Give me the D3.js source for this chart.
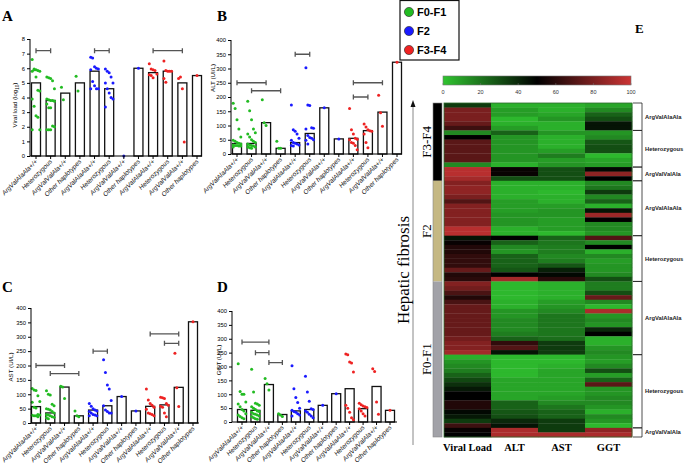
<!DOCTYPE html>
<html><head><meta charset="utf-8">
<script src="https://cdn.jsdelivr.net/npm/d3@7"></script>
<style>body{margin:0;background:#fff}svg{display:block}</style>
</head><body>
<svg id="c" width="685" height="465"></svg>
<script>
// ---------- DATA ----------
const categories = ["ArgValAlaAla+/+","Heterozygous","ArgValValAla+/+","Other haplotypes"];
const stages = ["F0-F1","F2","F3-F4"];
const stageColors = ["#22bb22","#1a1aff","#ee2222"];

const vlTicks = [0,1,2,3,4,5,6,7,8];
const enzTicks = [0,50,100,150,200,250,300,350,400];

const vlBars = [5.0,3.8,4.3,5.0, 5.8,4.6,0,6.0, 5.7,5.8,5.0,5.5];
const vlPoints = [
 [6.6,5.95,5.9,5.85,5.8,5.8,5.9,5.4,4.5,4.45,3.9,3.4,2.75,2.65,1.8,1.8],
 [5.4,5.35,5.3,5.15,4.6,3.9,3.85,3.8,3.8,3.75,3.55,3.3,3.3,2.05,2.0,1.8,1.8,1.8],
 [4.7,3.85],[5.45,4.45],
 [6.75,6.7,6.1,6.0,5.95,5.9,5.1,4.8,4.6,4.6,4.6],
 [5.95,5.8,5.7,5.4,5.0,5.0,4.6,4.3,4.0,3.9,3.35],
 [0],[6.0],
 [6.3,5.95,5.9,5.85,5.6,5.55,5.5,5.35],
 [6.5,5.85,5.8,5.8,5.8,5.3,5.05],
 [5.3,5.4,4.6,0.95],[5.5]
];
const vlSig = [[0,1,7.2],[4,5,7.2],[8,10,7.2]];

const altBars = [37,37,110,20, 40,72,162,53, 55,82,147,322];
const altPoints = [
 [178,160,120,88,60,48,45,40,38,35,32,30,30,28,28,25],
 [185,152,120,88,75,70,60,50,45,40,35,32,30,28,25,25,22,20],
 [190,110,100],[45,20,20],
 [172,85,80,70,55,48,40,38,35,32,30,28],
 [303,172,170,92,90,88,65,58,55,50,48,35],
 [162],[53],
 [160,85,70,55,52,50,40,38,30,15],
 [105,95,85,82,80,70,40,22],
 [206,145,97],[322]
];
const altSig = [[0,2,250],[1,3,222],[4,5,350],[8,10,250],[8,9,200]];

const astBars = [57,35,125,25, 45,60,92,42, 58,63,124,352];
const astPoints = [
 [120,115,113,95,75,72,55,52,30,28,27,25,25,22],
 [112,100,97,65,60,50,48,45,40,35,30,28,25,22,20,18,15],
 [128,125,85],[42,25,22],
 [68,58,50,45,42,40,35,30,28,25,25],
 [220,176,132,118,78,60,45,40,35,35],
 [92],[42],
 [118,80,68,62,55,48,35,32,30,25],
 [90,88,85,68,62,58,55,35,22],
 [243,123,57],[352]
];
const astSig = [[0,2,200],[1,3,172],[4,5,250],[8,10,310],[9,10,277]];

const ggtBars = [45,42,135,27, 40,45,60,102, 120,48,128,42];
const ggtPoints = [
 [210,110,100,100,72,65,55,45,40,30,25,20,15,12],
 [190,108,68,65,60,55,50,45,40,38,35,30,28,25,22,20,15,12,10],
 [157,138,115],[30,25,20],
 [203,120,88,70,50,42,38,35,30,25,22],
 [165,108,75,48,45,40,35,28,22,15],
 [60],[102],
 [245,242,216,213,180,60,50,35,15,8],
 [68,62,58,55,52,48,40,30,22],
 [192,182,72,28],[42]
];
const ggtSig = [[0,2,288],[1,2,250],[2,3,214]];

// Heatmap (values 0-100), columns:
const hmColumns = ["Viral Load","ALT","AST","GGT"];
const hmTicks = [0,20,40,60,80,100];
const hmStages = ["F3-F4","F2","F0-F1"];
const hmGroups = [
 {stage:"F3-F4", name:"ArgValAlaAla", rows:[[35,5,5,8],[80,10,5,15],[80,10,8,25],[80,3,12,30],[75,5,5,45],[65,10,5,45]]},
 {stage:"F3-F4", name:"Heterozygous", rows:[[15,25,12,12],[50,12,5,15],[72,12,5,28],[72,12,5,30],[72,12,10,30],[72,12,18,3],[72,12,10,8],[15,5,12,10]]},
 {stage:"F3-F4", name:"ArgValValAla", rows:[[95,52,30,48],[95,52,30,85],[90,30,30,50]]},
 {stage:"F2", name:"ArgValAlaAla", rows:[[82,5,5,15],[85,5,5,20],[85,5,3,35],[80,5,5,15],[70,10,5,25],[82,10,10,5],[82,10,12,45],[82,12,12,88],[82,12,10,50],[82,12,10,15],[95,5,10,15],[95,5,3,12]]},
 {stage:"F2", name:"Heterozygous", rows:[[45,50,25,70],[52,25,20,15],[58,15,18,50],[58,12,18,5],[62,25,15,15],[62,25,18,10],[62,25,28,12],[75,28,42,12],[58,50,48,15],[60,90,60,30]]},
 {stage:"F0-F1", name:"ArgValAlaAla", rows:[[82,3,5,18],[78,3,5,18],[68,3,5,30],[58,3,5,75],[68,5,10,15],[75,5,12,3],[75,12,15,92],[75,12,20,12],[75,15,20,15],[75,15,20,12],[75,15,20,40],[75,18,20,50],[78,25,22,5],[82,62,35,5],[82,70,35,12],[90,45,35,15]]},
 {stage:"F0-F1", name:"Heterozygous", rows:[[5,3,3,12],[12,3,3,10],[15,3,5,15],[18,3,8,30],[25,3,8,10],[32,8,8,25],[38,8,8,72],[44,8,8,12],[50,8,8,12],[50,8,10,15],[58,25,15,15],[58,25,20,12],[48,28,25,5],[44,30,25,15],[35,40,35,12],[65,45,35,3]]},
 {stage:"F0-F1", name:"ArgValValAla", rows:[[52,92,35,85],[50,92,92,92]]}
];

// ---------- DRAW ----------
const svg = d3.select("#c");
const SANS = "'Liberation Sans', Arial, sans-serif";
const SERIF = "'Liberation Serif', 'Times New Roman', serif";

function panel(cfg){
  const {x0,x1,c0,c1,yTop,yBot,max,ticks,bars,points,sig,ylabel,lx,ly} = cfg;
  const g = svg.append("g");
  const x = d3.scalePoint().domain(d3.range(12)).range([c0,c1]);
  const y = d3.scaleLinear().domain([0,max]).range([yBot,yTop]);
  const bw = cfg.bw || 9;
  g.selectAll("rect.bar").data(bars).join("rect")
    .attr("x",(d,i)=>x(i)-bw/2).attr("width",bw)
    .attr("y",d=>y(d)).attr("height",d=>yBot-y(d))
    .attr("fill","#fff").attr("stroke","#111").attr("stroke-width",1.3)
    .attr("display",d=>d>0?null:"none");
  points.forEach((arr,i)=>{
    const col = stageColors[Math.floor(i/4)];
    g.selectAll(null).data(arr).join("circle")
      .attr("cx",(d,k)=>x(i)+((k%5)-2)*1.9*(arr.length>1?1:0))
      .attr("cy",d=>y(d)).attr("r",1.5).attr("fill",col);
  });
  const ya = d3.axisLeft(y).tickValues(ticks).tickSize(3).tickPadding(2);
  const yg = g.append("g").attr("transform",`translate(${x0},0)`).call(ya);
  yg.select(".domain").remove();
  g.append("line").attr("x1",x0).attr("x2",x0).attr("y1",yTop).attr("y2",yBot).attr("stroke","#000").attr("stroke-width",1);
  yg.selectAll("text").attr("font-size",5.8).attr("font-family",SANS);
  g.append("line").attr("x1",x0).attr("x2",x1).attr("y1",yBot).attr("y2",yBot).attr("stroke","#000").attr("stroke-width",1);
  const labels = d3.range(12).map(i=>categories[i%4]);
  g.selectAll("line.xt").data(d3.range(12)).join("line")
    .attr("x1",d=>x(d)).attr("x2",d=>x(d)).attr("y1",yBot).attr("y2",yBot+3).attr("stroke","#000");
  g.selectAll("text.xl").data(labels).join("text")
    .attr("transform",(d,i)=>`translate(${x(i)+2},${yBot+6}) rotate(-45)`)
    .attr("text-anchor","end").attr("font-size",6.5).attr("font-family",SANS).attr("font-style","italic")
    .attr("fill","#111").text(d=>d);
  sig.forEach(([a,b,v])=>{
    const yy=y(v);
    g.append("path").attr("d",`M${x(a)},${yy-2.5}V${yy+2.5}M${x(a)},${yy}H${x(b)}M${x(b)},${yy-2.5}V${yy+2.5}`)
      .attr("stroke","#555").attr("stroke-width",1.3).attr("fill","none");
  });
  const t = g.append("text").attr("transform",`translate(${lx},${ly}) rotate(-90)`)
    .attr("text-anchor","middle").attr("font-size",6.2).attr("font-family",SANS);
  if (Array.isArray(ylabel)){
    t.append("tspan").text(ylabel[0]);
    t.append("tspan").attr("font-size",4.5).attr("dy",1.5).text(ylabel[1]);
    t.append("tspan").attr("dy",-1.5).text(ylabel[2]);
  } else t.text(ylabel);
}

panel({x0:30,x1:202,c0:36,c1:197,yTop:39,yBot:156,max:8,ticks:vlTicks,bars:vlBars,points:vlPoints,sig:vlSig,ylabel:["Viral load (log","10",")"],lx:17,ly:105});
panel({x0:231,x1:402,c0:237,c1:397,yTop:40,yBot:154,max:400,ticks:enzTicks,bars:altBars,points:altPoints,sig:altSig,ylabel:"ALT (UI/L)",lx:215,ly:78});
panel({x0:31,x1:199,c0:36,c1:193,yTop:308,yBot:423,max:400,ticks:enzTicks,bars:astBars,points:astPoints,sig:astSig,ylabel:"AST (UI/L)",lx:13,ly:367});
panel({x0:232,x1:397,c0:242,c1:390,yTop:311,yBot:422,max:400,ticks:enzTicks,bars:ggtBars,points:ggtPoints,sig:ggtSig,ylabel:"GGT (UI/L)",lx:221,ly:360});

[["A",2,21],["B",217,21],["C",2,292],["D",217,292]].forEach(([t,x,y])=>{
  svg.append("text").attr("x",x).attr("y",y).attr("font-family",SERIF).attr("font-weight","bold").attr("font-size",15).text(t);
});
svg.append("text").attr("x",635).attr("y",33).attr("font-family",SERIF).attr("font-weight","bold").attr("font-size",13).text("E");

const lg = svg.append("g");
lg.append("rect").attr("x",400).attr("y",0.5).attr("width",59).attr("height",59.5).attr("fill","#fff").attr("stroke","#111").attr("stroke-width",1.2);
stages.forEach((s,i)=>{
  lg.append("circle").attr("cx",409).attr("cy",12+i*19).attr("r",4.6).attr("fill",stageColors[i]).attr("stroke","#222").attr("stroke-width",0.6);
  lg.append("text").attr("x",417).attr("y",16+i*19).attr("font-family",SANS).attr("font-weight","bold").attr("font-size",11).text(s);
});

const color = d3.scaleLinear().domain([0,50,100]).range(["#30c430","#000000","#cc3434"]);
const rows = [];
hmGroups.forEach((g,gi)=>g.rows.forEach(r=>rows.push({g:gi,stage:g.stage,vals:r})));
const hy = d3.scaleBand().domain(d3.range(rows.length)).range([103,437]);
const hx = d3.scaleBand().domain(hmColumns).range([444,632]);
const hm = svg.append("g");
rows.forEach((r,i)=>{
  hmColumns.forEach((c,j)=>{
    hm.append("rect").attr("x",hx(c)).attr("y",hy(i)).attr("width",hx.bandwidth()+0.3).attr("height",hy.bandwidth()+0.3)
      .attr("fill",color(r.vals[j]));
  });
});
hm.append("rect").attr("x",444).attr("y",103).attr("width",188).attr("height",334).attr("fill","none").attr("stroke","#2d6a2d").attr("stroke-width",0.8);
hmColumns.forEach(c=>{
  svg.append("text").attr("x",hx(c)+hx.bandwidth()/2).attr("y",451).attr("text-anchor","middle")
    .attr("font-family",SERIF).attr("font-weight","bold").attr("font-size",10.5).text(c);
});

let start=0;
hmGroups.forEach(g=>{
  const n=g.rows.length;
  const ya=hy(start), yb=hy(start+n-1)+hy.bandwidth();
  svg.append("path").attr("d",`M633,${ya}H642V${yb}H633`).attr("fill","none").attr("stroke","#222").attr("stroke-width",0.8);
  svg.append("text").attr("x",645).attr("y",(ya+yb)/2+2).attr("font-family",SANS).attr("font-weight","bold").attr("font-size",5.8).attr("fill","#222").text(g.name);
  start+=n;
});

const stageCol = {"F3-F4":"#000000","F2":"#c5b883","F0-F1":"#a2a2a8"};
hmStages.forEach(s=>{
  const idx = rows.map((r,i)=>r.stage===s?i:-1).filter(i=>i>=0);
  const ya=hy(idx[0]), yb=hy(idx[idx.length-1])+hy.bandwidth();
  svg.append("rect").attr("x",433).attr("y",ya).attr("width",9).attr("height",yb-ya).attr("fill",stageCol[s]);
  svg.append("text").attr("transform",`translate(431,${(ya+yb)/2}) rotate(-90)`).attr("text-anchor","middle")
    .attr("font-family",SERIF).attr("font-size",13).text(s);
});
svg.append("rect").attr("x",433).attr("y",103).attr("width",9).attr("height",334).attr("fill","none").attr("stroke","#888").attr("stroke-width",0.6);
svg.append("line").attr("x1",413).attr("x2",413).attr("y1",445).attr("y2",106).attr("stroke","#888").attr("stroke-width",1);
svg.append("path").attr("d","M413,100 L410.5,107 L415.5,107 Z").attr("fill","#111");
svg.append("text").attr("transform","translate(409,270) rotate(-90)").attr("text-anchor","middle")
  .attr("font-family",SERIF).attr("font-size",17).text("Hepatic fibrosis");

const defs = svg.append("defs");
const grad = defs.append("linearGradient").attr("id","cb");
[0,25,50,75,100].forEach(v=>grad.append("stop").attr("offset",v+"%").attr("stop-color",color(v)));
svg.append("rect").attr("x",443).attr("y",76).attr("width",188).attr("height",9).attr("fill","url(#cb)").attr("stroke","#777").attr("stroke-width",0.6);
const cbx = d3.scaleLinear().domain([0,100]).range([443,631]);
hmTicks.forEach(t=>{
  svg.append("line").attr("x1",cbx(t)).attr("x2",cbx(t)).attr("y1",83).attr("y2",85).attr("stroke","#777").attr("stroke-width",0.5);
  svg.append("text").attr("x",cbx(t)).attr("y",94).attr("text-anchor","middle").attr("font-family",SANS).attr("font-size",5.5).attr("fill","#333").text(t);
});
</script>
</body></html>
